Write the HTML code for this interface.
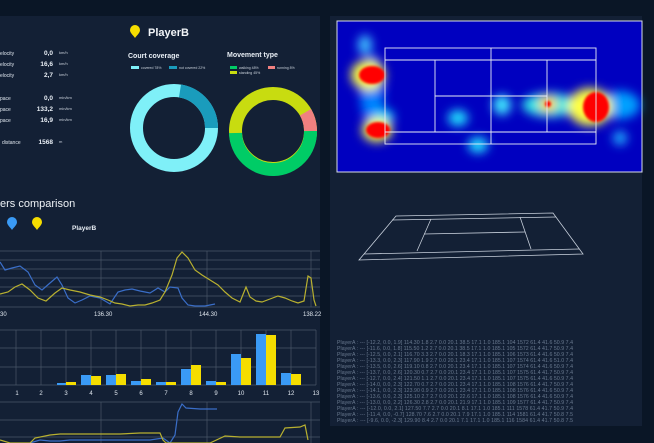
<!DOCTYPE html>
<html><head><meta charset="utf-8"><style>
html,body{margin:0;padding:0;background:#0a1525;}
svg{display:block;font-family:"Liberation Sans",sans-serif;}
</style></head><body>
<svg width="654" height="443" viewBox="0 0 654 443" xmlns="http://www.w3.org/2000/svg">
<defs>
<filter id="bl" x="-50%" y="-50%" width="200%" height="200%"><feGaussianBlur stdDeviation="5"/></filter>
<filter id="bl2" x="-50%" y="-50%" width="200%" height="200%"><feGaussianBlur stdDeviation="1.2"/></filter>
</defs>
<rect width="654" height="443" fill="#0a1626"/>
<rect x="0" y="16" width="320" height="427" fill="#132035"/>
<rect x="330" y="16" width="312" height="410" fill="#132035"/>

<g font-size="5" fill="#dfe6ee">
<text x="0" y="55">elocity</text><text x="0" y="66">elocity</text><text x="0" y="77">elocity</text>
<text x="0" y="100">pace</text><text x="0" y="111">pace</text><text x="0" y="122">pace</text>
<text x="2" y="144">distance</text>
</g>
<g font-size="6.5" font-weight="bold" fill="#e8eef5" text-anchor="end">
<text x="53" y="55">0,0</text><text x="53" y="66">16,6</text><text x="53" y="77">2,7</text>
<text x="53" y="100">0,0</text><text x="53" y="111">133,2</text><text x="53" y="122">16,9</text>
<text x="53" y="144">1568</text>
</g>
<g font-size="4" fill="#c8d0da">
<text x="59" y="54">km/h</text><text x="59" y="65">km/h</text><text x="59" y="76">km/h</text>
<text x="59" y="99">min/km</text><text x="59" y="110">min/km</text><text x="59" y="121">min/km</text>
<text x="59" y="143">m</text>
</g>

<path d="M130 30 a5 5 0 0 1 10 0 c0 3 -3 5 -5 8 c-2 -3 -5 -5 -5 -8z" fill="#f5dd00"/>
<text x="148" y="36" font-size="11" font-weight="bold" fill="#f2f5f8">PlayerB</text>

<text x="128" y="58" font-size="7" font-weight="bold" fill="#e8eef5">Court coverage</text>
<rect x="131" y="66" width="8" height="3" fill="#7ff0f8"/><text x="141" y="69" font-size="3.5" fill="#c8d0da">covered 78%</text>
<rect x="169" y="66" width="8" height="3" fill="#1a9cbc"/><text x="179" y="69" font-size="3.5" fill="#c8d0da">not covered 22%</text>
<text x="227" y="57" font-size="7" font-weight="bold" fill="#e8eef5">Movement type</text>
<rect x="230" y="66" width="7" height="3" fill="#00cc66"/><text x="239" y="69" font-size="3.5" fill="#c8d0da">walking 48%</text>
<rect x="268" y="66" width="7" height="3" fill="#f08080"/><text x="277" y="69" font-size="3.5" fill="#c8d0da">running 8%</text>
<rect x="230" y="71" width="7" height="3" fill="#c8dc10"/><text x="239" y="74" font-size="3.5" fill="#c8d0da">standing 45%</text>

<circle cx="174" cy="128" r="37.5" fill="none" stroke="#7ff0f8" stroke-width="13"/>
<path d="M 180 90.9 A 37.5 37.5 0 0 1 211.5 128" fill="none" stroke="#1a9cbc" stroke-width="13"/>
<circle cx="273" cy="131" r="37.5" fill="none" stroke="#c8dc10" stroke-width="13"/>
<path d="M 310.5 131 A 37.5 37.5 0 0 1 235.5 133" fill="none" stroke="#00cc66" stroke-width="13"/>
<path d="M 305.5 112.2 A 37.5 37.5 0 0 1 310.5 131" fill="none" stroke="#f08080" stroke-width="13"/>

<text x="0" y="207" font-size="11" fill="#eef2f6">ers comparison</text>
<path d="M7 222 a5 5 0 0 1 10 0 c0 3 -3 5 -5 8 c-2 -3 -5 -5 -5 -8z" fill="#3a9af5"/>
<path d="M32 222 a5 5 0 0 1 10 0 c0 3 -3 5 -5 8 c-2 -3 -5 -5 -5 -8z" fill="#f5dd00"/>
<text x="72" y="230" font-size="6.5" font-weight="bold" fill="#e8eef5">PlayerB</text>

<g stroke="#4a5668" stroke-width="0.7">
<line x1="0" y1="251" x2="320" y2="251"/><line x1="0" y1="260" x2="320" y2="260"/><line x1="0" y1="269" x2="320" y2="269"/><line x1="0" y1="278" x2="320" y2="278"/><line x1="0" y1="287" x2="320" y2="287"/><line x1="0" y1="296" x2="320" y2="296"/><line x1="0" y1="307" x2="320" y2="307"/>
<line x1="101" y1="251" x2="101" y2="307"/><line x1="207" y1="251" x2="207" y2="307"/><line x1="311" y1="251" x2="311" y2="307"/>
</g>
<polyline fill="none" stroke="#3a6ec8" stroke-width="1.2" points="0,262 5,270 12,268 20,266 28,272 35,285 42,290 50,283 57,277 62,285 68,298 75,303 82,300 90,296 100,298 110,304 118,292 125,290 132,289 140,291 150,293 158,288 165,292 170,287 178,288 182,298 188,305 195,306 205,306 215,304"/>
<polyline fill="none" stroke="#b8b030" stroke-width="1.2" points="0,294 8,292 15,287 22,284 30,290 38,298 46,301 55,293 62,288 70,290 80,292 90,295 100,297 108,300 115,303 122,304 130,306 138,305 145,305 152,303 160,300 165,292 172,275 177,258 182,252 188,258 195,270 202,275 210,280 218,285 225,292 232,298 240,302 246,287 250,297 256,301 262,302 270,299 278,296 285,298 292,301 298,303 304,301 308,276 311,278 314,300 316,306"/>
<g font-size="6" fill="#dfe6ee">
<text x="0" y="316">30</text><text x="94" y="316">136.30</text><text x="199" y="316">144.30</text><text x="303" y="316">138.22</text>
</g>

<g stroke="#4a5668" stroke-width="0.7">
<line x1="0" y1="330" x2="316" y2="330"/><line x1="0" y1="348" x2="316" y2="348"/><line x1="0" y1="367" x2="316" y2="367"/><line x1="0" y1="385" x2="316" y2="385"/>
<line x1="16" y1="330" x2="16" y2="385"/><line x1="41" y1="330" x2="41" y2="385"/><line x1="66" y1="330" x2="66" y2="385"/><line x1="91" y1="330" x2="91" y2="385"/><line x1="116" y1="330" x2="116" y2="385"/><line x1="141" y1="330" x2="141" y2="385"/><line x1="166" y1="330" x2="166" y2="385"/><line x1="191" y1="330" x2="191" y2="385"/><line x1="216" y1="330" x2="216" y2="385"/><line x1="241" y1="330" x2="241" y2="385"/><line x1="266" y1="330" x2="266" y2="385"/><line x1="291" y1="330" x2="291" y2="385"/><line x1="316" y1="330" x2="316" y2="385"/>
</g>
<g fill="#3a9af5">
<rect x="57" y="383" width="9" height="2"/><rect x="81" y="375" width="10" height="10"/><rect x="106" y="375" width="10" height="10"/><rect x="131" y="381" width="10" height="4"/><rect x="156" y="382" width="10" height="3"/><rect x="181" y="369" width="10" height="16"/><rect x="206" y="381" width="10" height="4"/><rect x="231" y="354" width="10" height="31"/><rect x="256" y="334" width="10" height="51"/><rect x="281" y="373" width="10" height="12"/>
</g>
<g fill="#f5dd00">
<rect x="66" y="382" width="10" height="3"/><rect x="91" y="376" width="10" height="9"/><rect x="116" y="374" width="10" height="11"/><rect x="141" y="379" width="10" height="6"/><rect x="166" y="382" width="10" height="3"/><rect x="191" y="365" width="10" height="20"/><rect x="216" y="382" width="10" height="3"/><rect x="241" y="358" width="10" height="27"/><rect x="266" y="335" width="10" height="50"/><rect x="291" y="374" width="10" height="11"/>
</g>
<g font-size="6" fill="#dfe6ee" text-anchor="middle">
<text x="17" y="395">1</text><text x="41" y="395">2</text><text x="66" y="395">3</text><text x="91" y="395">4</text><text x="116" y="395">5</text><text x="141" y="395">6</text><text x="166" y="395">7</text><text x="191" y="395">8</text><text x="216" y="395">9</text><text x="241" y="395">10</text><text x="266" y="395">11</text><text x="291" y="395">12</text><text x="316" y="395">13</text>
</g>

<g stroke="#4a5668" stroke-width="0.7">
<line x1="0" y1="402" x2="320" y2="402"/><line x1="0" y1="420" x2="320" y2="420"/><line x1="0" y1="437" x2="320" y2="437"/>
<line x1="101" y1="402" x2="101" y2="443"/><line x1="207" y1="402" x2="207" y2="443"/><line x1="311" y1="402" x2="311" y2="443"/>
</g>
<polyline fill="none" stroke="#3a6ec8" stroke-width="1.2" points="30,443 40,440 50,441 60,441 70,440 90,440 110,440 130,440 150,440 163,438 170,443 175,435 178,412 182,404 186,408 200,409 217,409"/>
<polyline fill="none" stroke="#b8b030" stroke-width="1.2" points="0,440 10,443 30,443 35,438 50,435 60,434 80,434 100,434 120,434 140,433 160,433 163,440 166,443 210,443 225,436 240,437 260,437 280,437 285,428 300,427 305,425 308,440"/>

<rect x="337" y="21" width="305" height="151" fill="#0000c0" stroke="#d8dde8" stroke-width="1"/>
<g filter="url(#bl)">
<ellipse cx="365" cy="45" rx="7" ry="10" fill="#40c0ff"/>
<ellipse cx="372" cy="90" rx="12" ry="35" fill="#0080ff"/>
<ellipse cx="384" cy="117" rx="10" ry="8" fill="#00d8ff"/>
<ellipse cx="458" cy="118" rx="10" ry="8" fill="#20e0ff"/>
<ellipse cx="478" cy="145" rx="10" ry="8" fill="#20e0ff"/>
<ellipse cx="502" cy="105" rx="9" ry="10" fill="#40e8ff"/>
<ellipse cx="550" cy="105" rx="28" ry="12" fill="#30e8e8"/>
<ellipse cx="620" cy="105" rx="20" ry="14" fill="#00a0ff"/>
<ellipse cx="620" cy="138" rx="7" ry="7" fill="#20b0ff"/>
<ellipse cx="590" cy="107" rx="22" ry="19" fill="#ffff40"/>
<ellipse cx="548" cy="104" rx="9" ry="8" fill="#ffd020"/>
<ellipse cx="368" cy="75" rx="17" ry="15" fill="#ffff40"/>
<ellipse cx="377" cy="130" rx="15" ry="12" fill="#ffff40"/>
</g>
<g filter="url(#bl2)">
<ellipse cx="372" cy="75" rx="13" ry="9" fill="#ff0000"/>
<ellipse cx="378" cy="130" rx="12" ry="8" fill="#ff0000"/>
<ellipse cx="596" cy="107" rx="13" ry="15" fill="#ff0000"/>
<ellipse cx="548" cy="104" rx="3" ry="3" fill="#ff0000"/>
</g>
<g fill="none" stroke="#e8ecf5" stroke-width="0.9">
<rect x="385" y="48" width="211" height="96"/>
<line x1="385" y1="60" x2="596" y2="60"/><line x1="385" y1="132" x2="596" y2="132"/>
<line x1="491" y1="48" x2="491" y2="144"/>
<line x1="435" y1="60" x2="435" y2="132"/><line x1="547" y1="60" x2="547" y2="132"/>
<line x1="435" y1="96" x2="547" y2="96"/>
</g>

<g fill="none" stroke="#c8d0dc" stroke-width="0.8">
<polygon points="396,216 553,213 583,254 359,260"/>
<line x1="392" y1="220" x2="556" y2="217"/><line x1="364" y1="254" x2="579" y2="249"/>
<line x1="431" y1="219" x2="417" y2="251"/><line x1="520" y1="217" x2="531" y2="249"/>
<line x1="424" y1="234" x2="525" y2="232"/>
</g>

<g font-size="5.2" fill="#6a7a90" lengthAdjust="spacingAndGlyphs">
<text x="337" y="344" textLength="236">PlayerA : --- [-12.2, 0.0, 1.9] 114.30 1.8 2.7 0.0 20.1 38.5 17.1 1.0 185.1 104 1572 61.4 41.6 50.9 7.4</text>
<text x="337" y="350" textLength="236">PlayerA : --- [-11.6, 0.0, 1.8] 115.50 1.2 2.7 0.0 20.1 38.5 17.1 1.0 185.1 105 1572 61.4 41.7 50.9 7.4</text>
<text x="337" y="356" textLength="236">PlayerA : --- [-12.5, 0.0, 2.1] 116.70 3.3 2.7 0.0 20.1 18.3 17.1 1.0 185.1 106 1573 61.4 41.6 50.9 7.4</text>
<text x="337" y="362" textLength="236">PlayerA : --- [-13.3, 0.0, 2.3] 117.90 1.9 2.7 0.0 20.1 23.4 17.1 1.0 185.1 107 1574 61.4 41.6 51.0 7.4</text>
<text x="337" y="368" textLength="236">PlayerA : --- [-13.5, 0.0, 2.6] 119.10 0.8 2.7 0.0 20.1 23.4 17.1 1.0 185.1 107 1574 61.4 41.6 50.9 7.4</text>
<text x="337" y="374" textLength="236">PlayerA : --- [-13.7, 0.0, 2.6] 120.30 0.7 2.7 0.0 20.1 23.4 17.1 1.0 185.1 107 1575 61.4 41.7 50.9 7.4</text>
<text x="337" y="380" textLength="236">PlayerA : --- [-12.7, 0.0, 2.4] 121.50 1.1 2.7 0.0 20.1 23.4 17.1 1.0 185.1 107 1575 61.4 41.6 50.9 7.4</text>
<text x="337" y="386" textLength="236">PlayerA : --- [-14.0, 0.0, 2.3] 122.70 0.7 2.7 0.0 20.1 23.4 17.1 1.0 185.1 108 1576 61.4 41.7 50.9 7.4</text>
<text x="337" y="392" textLength="236">PlayerA : --- [-14.1, 0.0, 2.3] 123.90 0.9 2.7 0.0 20.1 23.4 17.1 1.0 185.1 108 1576 61.4 41.6 50.9 7.4</text>
<text x="337" y="398" textLength="236">PlayerA : --- [-13.6, 0.0, 2.3] 125.10 2.7 2.7 0.0 20.1 22.6 17.1 1.0 185.1 108 1576 61.4 41.6 50.9 7.4</text>
<text x="337" y="404" textLength="236">PlayerA : --- [-13.0, 0.0, 2.2] 126.30 2.8 2.7 0.0 20.1 21.9 17.1 1.0 185.1 109 1577 61.4 41.7 50.9 7.4</text>
<text x="337" y="410" textLength="236">PlayerA : --- [-12.0, 0.0, 2.1] 127.50 7.7 2.7 0.0 20.1 8.1 17.1 1.0 185.1 111 1578 61.4 41.7 50.9 7.4</text>
<text x="337" y="416" textLength="236">PlayerA : --- [-11.4, 0.0, -0.7] 128.70 7.6 2.7 0.0 20.1 7.9 17.1 1.0 185.1 114 1581 61.4 41.7 50.8 7.5</text>
<text x="337" y="422" textLength="236">PlayerA : --- [-9.6, 0.0, -2.3] 129.90 8.4 2.7 0.0 20.1 7.1 17.1 1.0 185.1 116 1584 61.4 41.7 50.8 7.5</text>
</g>
</svg>
</body></html>
